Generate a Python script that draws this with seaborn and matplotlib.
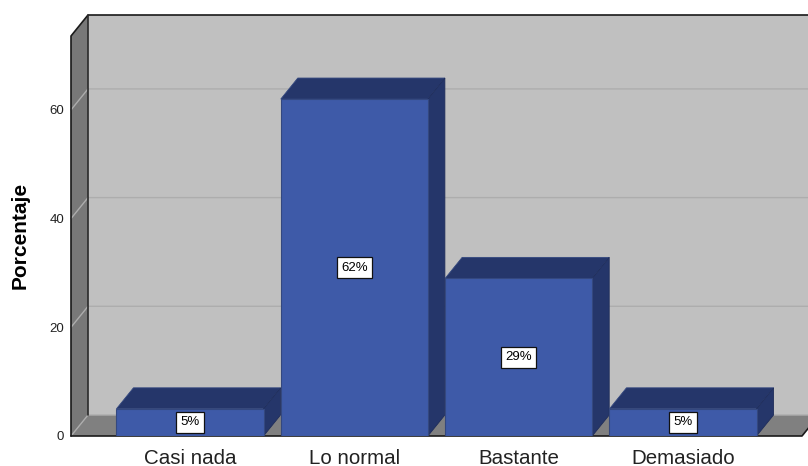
import matplotlib
matplotlib.use("Agg")
import matplotlib.pyplot as plt
import pandas as pd
import seaborn as sns

categories = ["Casi nada", "Lo normal", "Bastante", "Demasiado"]
percentages = [5, 62, 29, 5]
y_ticks = [0, 20, 40, 60]

WALL = "#C0C0C0"
SIDE_WALL = "#787878"
FLOOR = "#808080"
GRID = "#ADADAD"
BAR_FRONT = "#3E5AA8"
BAR_SHADE = "#25366A"
OUTLINE = "#1A1A1A"

W, H = 808, 466
X_MIN, X_MAX = -0.724, 3.724
Y_MAX = 73.6
BAR_WIDTH = 0.895

sns.set_theme(style="white")
plt.rcParams["font.family"] = ["Liberation Sans", "DejaVu Sans"]

fig = plt.figure(figsize=(W / 100, H / 100), dpi=100)
ax = fig.add_axes([71 / W, 1 - 436 / H, (802 - 71) / W, 400 / H])
ax.patch.set_alpha(0)

table = pd.DataFrame({"categoria": categories, "porcentaje": percentages})
sns.barplot(
    data=table, x="categoria", y="porcentaje", order=categories,
    color=BAR_FRONT, saturation=1, width=BAR_WIDTH,
    edgecolor="#34487F", linewidth=0.8, ax=ax, zorder=5,
)
ax.set_xlim(X_MIN, X_MAX)
ax.set_ylim(0, Y_MAX)

# Depth of the pseudo-3D box, expressed in data units
dx = 17 / ((802 - 71) / (X_MAX - X_MIN))
dy = 21 / (400 / Y_MAX)

# Back wall, left wall and floor
far_right = X_MAX + 2 * dx
ax.fill([X_MIN + dx, far_right, far_right, X_MIN + dx],
        [dy, dy, Y_MAX + dy, Y_MAX + dy], color=WALL, lw=0, clip_on=False, zorder=0)
ax.fill([X_MIN, X_MIN + dx, X_MIN + dx, X_MIN],
        [0, dy, Y_MAX + dy, Y_MAX], color=SIDE_WALL, lw=0, clip_on=False, zorder=0)
ax.fill([X_MIN, X_MAX, X_MAX + dx, X_MIN + dx],
        [0, 0, dy, dy], color=FLOOR, lw=0, clip_on=False, zorder=0)

# Grid lines wrap from the left wall onto the back wall
for t in y_ticks[1:]:
    ax.plot([X_MIN, X_MIN + dx, far_right], [t, t + dy, t + dy],
            color=GRID, lw=1, clip_on=False, zorder=1)
ax.plot([X_MIN, X_MIN + dx, far_right], [0, dy, dy],
        color=GRID, lw=1, clip_on=False, zorder=1)

# Box outline
ax.plot([X_MIN, X_MIN, X_MIN + dx, far_right],
        [0, Y_MAX, Y_MAX + dy, Y_MAX + dy], color=OUTLINE, lw=1.2, clip_on=False, zorder=2)
ax.plot([X_MIN + dx, X_MIN + dx], [dy, Y_MAX + dy], color="#2A2A2A", lw=1.2, clip_on=False, zorder=2)
ax.plot([X_MIN, X_MAX, X_MAX + dx], [0, 0, dy], color=OUTLINE, lw=1.2, clip_on=False, zorder=2)

# Top and side faces of each bar, then the value tag on the front face
for i, value in enumerate(percentages):
    left, right = i - BAR_WIDTH / 2, i + BAR_WIDTH / 2
    ax.fill([left, right, right + dx, left + dx],
            [value, value, value + dy, value + dy],
            facecolor=BAR_SHADE, edgecolor="#34487F", lw=0.6, clip_on=False, zorder=3)
    ax.fill([right, right + dx, right + dx, right],
            [0, dy, value + dy, value],
            facecolor=BAR_SHADE, edgecolor="#1F2D5A", lw=0.6, clip_on=False, zorder=3)
    ax.text(i, value / 2, f"{value}%", ha="center", va="center", fontsize=9.5,
            color="black", zorder=6,
            bbox=dict(boxstyle="square,pad=0.33", fc="white", ec="#111111", lw=0.9))

for spine in ax.spines.values():
    spine.set_visible(False)
ax.set_xticks(range(len(categories)), categories)
ax.set_yticks(y_ticks)
ax.tick_params(axis="x", length=0, pad=9, labelsize=14.8, labelcolor="#222222")
ax.tick_params(axis="y", length=0, pad=5, labelsize=9.5, labelcolor="#222222")
ax.set_xlabel("")
ax.set_ylabel("Porcentaje", fontsize=15, fontweight="bold", color="black")
ax.yaxis.set_label_coords((30 - 71) / (802 - 71), (436 - 235) / 400)

fig.savefig("out.png", dpi=100, facecolor="white")
